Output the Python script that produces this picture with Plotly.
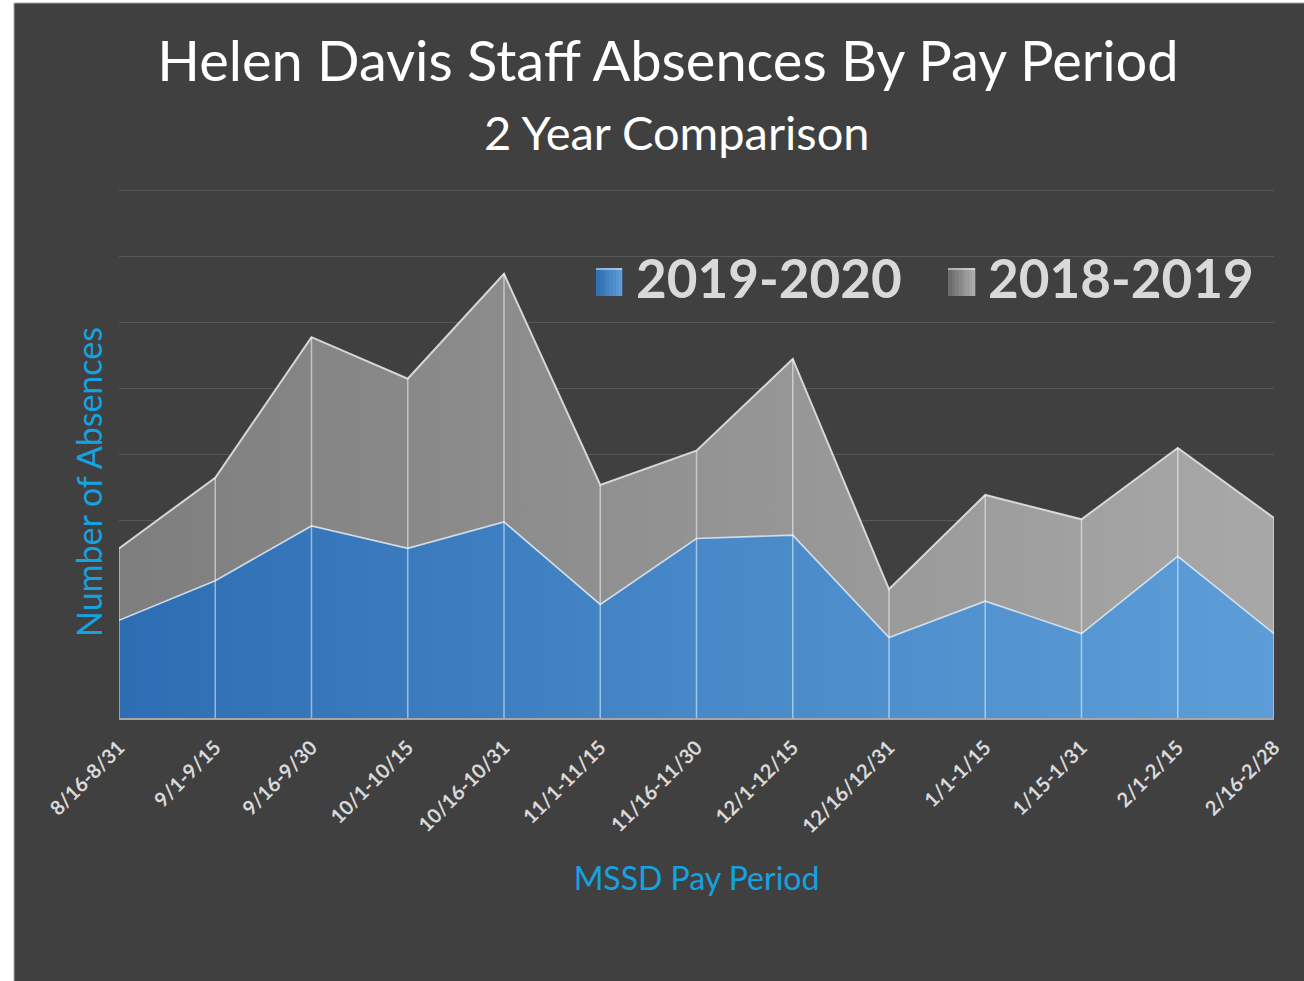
import numpy as np
import plotly.graph_objects as go

# ---------------- data ----------------
periods = ["8/16-8/31", "9/1-9/15", "9/16-9/30", "10/1-10/15", "10/16-10/31",
           "11/1-11/15", "11/16-11/30", "12/1-12/15", "12/16/12/31", "1/1-1/15",
           "1/15-1/31", "2/1-2/15", "2/16-2/28"]
absences_2019_2020 = [14.8, 20.8, 29.1, 25.7, 29.7, 17.2, 27.2, 27.7, 12.2, 17.7, 12.8, 24.5, 12.8]
absences_2018_2019 = [10.9, 15.6, 28.6, 25.7, 37.6, 18.1, 13.3, 26.7, 7.3, 16.1, 17.3, 16.4, 17.5]
series_names = ["2019-2020", "2018-2019"]

# ---------------- layout geometry ----------------
W, H = 1304, 981
ML, MR, MT, MB = 119, 30, 184, 263
PW, PH = W - ML - MR, H - MT - MB
YMAX = PH / 6.6          # 80 lands on the top grid line at y=190
BG = "#404040"
AXIS_TITLE_COLOR = "#14a3e0"
FONT = "Lato"


def px_x(px):
    return (px - ML) / PW


def px_y(py):
    return (H - MB - py) / PH


fig = go.Figure()

fig.add_trace(go.Scatter(
    x=periods, y=absences_2019_2020, name=series_names[0],
    stackgroup="one", mode="lines",
    line=dict(color="rgba(225,236,248,0.85)", width=1.6),
    fillgradient=dict(type="horizontal",
                      colorscale=[[0, "#2d6db3"], [0.5, "#4788c8"], [1, "#5d9dd7"]]),
    showlegend=False,
))
fig.add_trace(go.Scatter(
    x=periods, y=absences_2018_2019, name=series_names[1],
    stackgroup="one", mode="lines",
    line=dict(color="rgba(220,220,220,0.95)", width=2),
    fillgradient=dict(type="horizontal",
                      colorscale=[[0, "#7e7e7e"], [0.5, "#939393"], [1, "#a8a8a8"]]),
    showlegend=False,
))

# drop lines from the stacked top down to the axis
totals = np.array(absences_2019_2020) + np.array(absences_2018_2019)
dx, dy = [], []
for p, t in zip(periods, totals):
    dx += [p, p, None]
    dy += [0, float(t), None]
fig.add_trace(go.Scatter(
    x=dx, y=dy, mode="lines", hoverinfo="skip", showlegend=False,
    line=dict(color="rgba(255,255,255,0.5)", width=1.5),
))

shapes = []
# outer frame: white strip at left/top, dark chart area
shapes.append(dict(type="rect", xref="paper", yref="paper", layer="below",
                   x0=px_x(14), x1=px_x(W + 5), y0=px_y(H + 5), y1=px_y(3),
                   fillcolor=BG, line=dict(color="#a8a8a8", width=1)))

# custom legend swatches (gradient stripes)
def swatch(x0, x1, y0, y1, c0, c1, n=8):
    c0 = np.array(c0, float)
    c1 = np.array(c1, float)
    w = (x1 - x0) / n
    for i in range(n):
        c = c0 + (c1 - c0) * (i + 0.5) / n
        shapes.append(dict(type="rect", xref="paper", yref="paper",
                           x0=px_x(x0 + i * w), x1=px_x(x0 + (i + 1) * w + 0.3),
                           y0=px_y(y1), y1=px_y(y0),
                           fillcolor="rgb(%d,%d,%d)" % tuple(c), line=dict(width=0)))
    shapes.append(dict(type="line", xref="paper", yref="paper",
                       x0=px_x(x0), x1=px_x(x1), y0=px_y(y0 + 1), y1=px_y(y0 + 1),
                       line=dict(color="rgba(255,255,255,0.6)", width=1.5)))

swatch(596, 622, 268, 296, (44, 110, 180), (96, 160, 220))
swatch(948, 975, 268, 296, (105, 105, 105), (178, 178, 178))

annotations = [
    dict(text=series_names[0], xref="paper", yref="paper", x=px_x(634), y=px_y(277.5),
         xanchor="left", yanchor="middle", showarrow=False,
         font=dict(family=FONT, size=53, color="#d9d9d9", weight="bold")),
    dict(text=series_names[1], xref="paper", yref="paper", x=px_x(986), y=px_y(277.5),
         xanchor="left", yanchor="middle", showarrow=False,
         font=dict(family=FONT, size=53, color="#d9d9d9", weight="bold")),
    dict(text="Number of Absences", xref="paper", yref="paper", x=px_x(88), y=px_y(482),
         xanchor="center", yanchor="middle", textangle=-90, showarrow=False,
         font=dict(family=FONT, size=34, color=AXIS_TITLE_COLOR)),
    dict(text="2 Year Comparison", xref="paper", yref="paper", x=px_x(677), y=px_y(132),
         xanchor="center", yanchor="middle", showarrow=False,
         font=dict(family=FONT, size=47, color="#ffffff")),
]

fig.update_layout(
    width=W, height=H,
    margin=dict(l=ML, r=MR, t=MT, b=MB),
    paper_bgcolor="#ffffff",
    plot_bgcolor="rgba(0,0,0,0)",
    title=dict(
        text="Helen Davis Staff Absences By Pay Period",
        x=668 / W, xanchor="center", xref="container",
        y=1 - 42 / H, yanchor="top", yref="container",
        font=dict(family=FONT, size=56, color="#ffffff"),
    ),
    shapes=shapes,
    annotations=annotations,
    showlegend=False,
    xaxis=dict(
        type="category", range=[0, len(periods) - 1],
        showgrid=False, zeroline=False,
        showline=True, linecolor="#a6a6a6", linewidth=2,
        ticks="", tickangle=-45, ticklabelstandoff=8,
        tickfont=dict(family=FONT, size=20, color="#d9d9d9", weight="bold"),
        title=dict(text="MSSD Pay Period", standoff=31,
                   font=dict(family=FONT, size=32, color=AXIS_TITLE_COLOR)),
    ),
    yaxis=dict(
        range=[0, YMAX], tickvals=list(range(0, 90, 10)),
        showgrid=True, gridcolor="#575757", gridwidth=1,
        zeroline=False, showticklabels=False, ticks="", showline=False,
    ),
)

fig.write_html("out.html")
